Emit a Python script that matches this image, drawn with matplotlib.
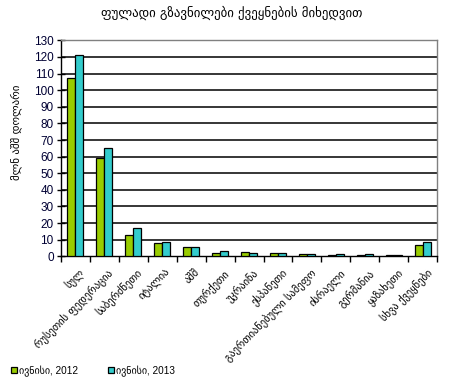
import matplotlib
matplotlib.use("Agg")
import matplotlib.pyplot as plt
import numpy as np

plt.rcParams['font.family'] = ['Liberation Sans', 'DejaVu Sans']

categories = ["სულ", "რუსეთის ფედერაცია", "საბერძნეთი", "იტალია", "აშშ", "თურქეთი",
              "უკრაინა", "ესპანეთი", "გაერთიანებული სამეფო", "ისრაელი", "გერმანია",
              "ყაზახეთი", "სხვა ქვეყნები"]
june_2012 = [107.5, 59.0, 12.6, 8.2, 5.8, 2.2, 2.8, 2.0, 1.2, 0.5, 0.6, 0.6, 6.6]
june_2013 = [121.3, 65.4, 17.2, 8.8, 5.9, 3.4, 2.2, 2.0, 1.2, 1.2, 1.3, 0.6, 8.4]
series_names = ["ივნისი, 2012", "ივნისი, 2013"]
title = "ფულადი გზავნილები ქვეყნების მიხედვით"
ylabel = "მლნ აშშ დოლარი"
yticks = list(range(0, 131, 10))

fig = plt.figure(figsize=(4.49, 3.82), dpi=100)
ax = fig.add_axes([0.1352, 0.329, 0.974 - 0.1352, 0.8945 - 0.329])

x = np.arange(len(categories))
w = 0.28
ax.bar(x - w / 2, june_2012, w, color="#99CC00", edgecolor="black", linewidth=0.9,
       label=series_names[0], zorder=3)
ax.bar(x + w / 2, june_2013, w, color="#33CCCC", edgecolor="black", linewidth=0.9,
       label=series_names[1], zorder=3)

ax.set_xlim(-0.5, len(categories) - 0.5)
ax.set_ylim(0, 130)
ax.set_yticks(yticks)
ax.set_yticklabels([str(t) for t in yticks], fontsize=8.5, color="#000033")
for t in yticks[1:-1]:
    ax.axhline(t, color="black", linewidth=1.1, zorder=1)

ax.set_xticks(np.arange(-0.5, len(categories), 1.0), minor=False)
ax.set_xticklabels([])
ax.tick_params(axis='x', direction='out', length=4, width=1, color='black')
ax.tick_params(axis='y', direction='inout', length=6, width=1, color='black', pad=2)
for i, c in enumerate(categories):
    ax.text(i + 0.12, -6.5, c, rotation=45, ha='right', va='top', rotation_mode='anchor',
            fontsize=7.6, family=['DejaVu Sans'])

for s in ['top', 'right']:
    ax.spines[s].set_color('#808080')
    ax.spines[s].set_linewidth(1)
for s in ['left', 'bottom']:
    ax.spines[s].set_color('black')
    ax.spines[s].set_linewidth(1)

fig.text(16 / 449, 1 - 132 / 382, ylabel, rotation=90, ha='center', va='center',
         fontsize=7.8, family=['DejaVu Sans'])
fig.text(0.515, 1 - 13 / 382, title, ha='center', va='center', fontsize=9.3,
         family=['DejaVu Sans'])

leg = fig.legend(loc='center left', bbox_to_anchor=(11 / 449, 1 - 371 / 382), ncol=2,
                 frameon=False, handlelength=0.55, handleheight=0.55, handletextpad=0.25,
                 columnspacing=3.0, borderaxespad=0, borderpad=0,
                 prop={'family': ['Liberation Sans', 'DejaVu Sans'], 'size': 7.2})

fig.savefig("out.png", dpi=100)
